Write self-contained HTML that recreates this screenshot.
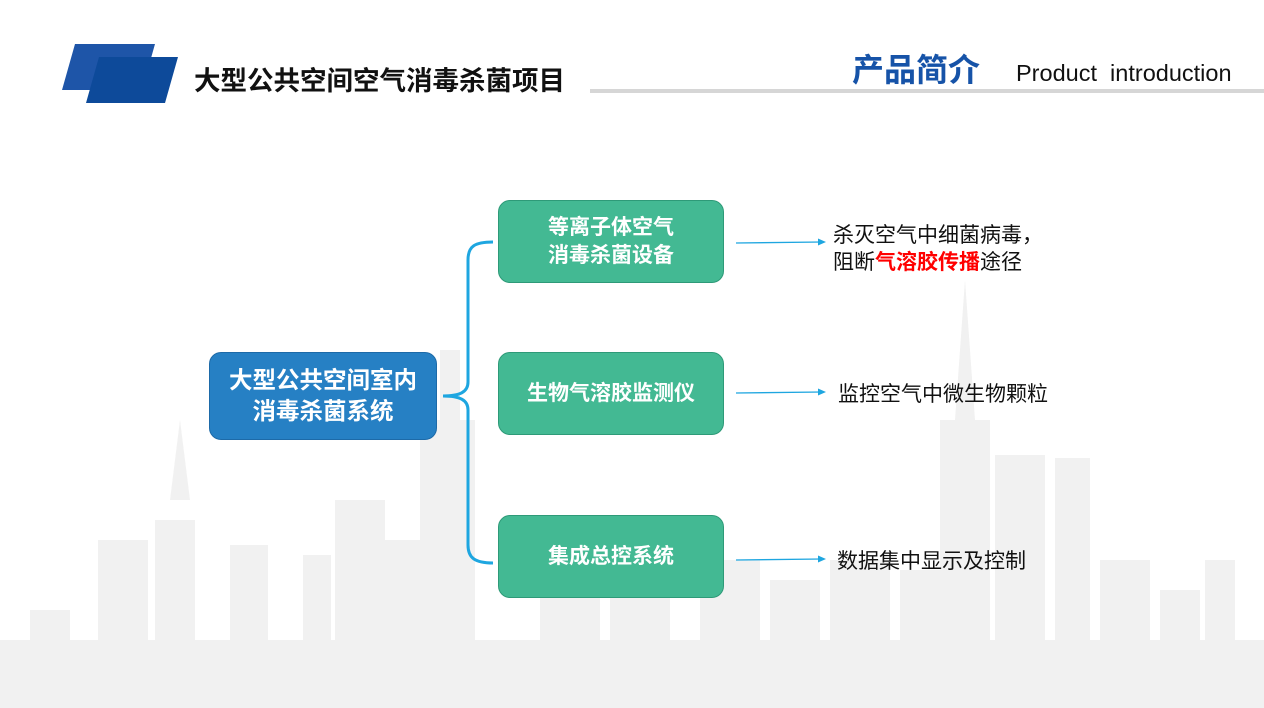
<!DOCTYPE html>
<html><head><meta charset="utf-8"><style>
body{margin:0;width:1264px;height:708px;overflow:hidden;background:#fff;position:relative;font-family:"Liberation Sans","Noto Sans CJK SC",sans-serif}
.a{position:absolute}
.g{position:absolute;background:#43b993;border:1.5px solid #2e9a78;border-radius:12px;color:#fff;font-weight:bold;font-size:21px;display:flex;align-items:center;justify-content:center;text-align:center;line-height:28px;box-sizing:border-box}
.t{position:absolute;font-size:21px;color:#111;line-height:27px;white-space:nowrap}
</style></head><body>
<svg class="a" style="left:0;top:0" width="1264" height="708">
<g fill="#f1f1f1">
<rect x="0" y="640" width="1264" height="68"/>
<rect x="30" y="610" width="40" height="98"/><rect x="98" y="540" width="50" height="168"/><rect x="155" y="520" width="40" height="188"/>
<polygon points="170,500 180,420 190,500"/><rect x="230" y="545" width="38" height="163"/><rect x="303" y="555" width="28" height="153"/>
<rect x="335" y="500" width="50" height="208"/><rect x="385" y="540" width="45" height="168"/><rect x="420" y="420" width="55" height="288"/>
<rect x="440" y="350" width="20" height="70"/><rect x="540" y="550" width="60" height="158"/><rect x="610" y="580" width="60" height="128"/>
<rect x="700" y="560" width="60" height="148"/><rect x="770" y="580" width="50" height="128"/><rect x="830" y="560" width="60" height="148"/>
<rect x="900" y="570" width="40" height="138"/><rect x="940" y="420" width="50" height="288"/><polygon points="955,420 965,280 975,420"/>
<rect x="995" y="455" width="50" height="253"/><rect x="1055" y="458" width="35" height="250"/><rect x="1100" y="560" width="50" height="148"/>
<rect x="1160" y="590" width="40" height="118"/><rect x="1205" y="560" width="30" height="148"/>
</g>
<polygon points="75,44 155,44 142,90 62,90" fill="#1e55a8"/>
<polygon points="99,57 178,57 165,103 86,103" fill="#0d4a9a"/>
<rect x="590" y="89" width="674" height="4" fill="#d6d6d6"/>
<path d="M493,242 C475,242 468,246 468,260 L468,382 C468,392 460,396 443,396 C460,396 468,400 468,410 L468,545 C468,558 475,563 493,563" fill="none" stroke="#1ea6e0" stroke-width="3"/>
<g stroke="#1ea6e0" stroke-width="1.3" fill="#1ea6e0">
<line x1="736" y1="243" x2="822" y2="242"/><polygon points="826,242 818,238.5 818,245.5" stroke="none"/>
<line x1="736" y1="393" x2="822" y2="392"/><polygon points="826,392 818,388.5 818,395.5" stroke="none"/>
<line x1="736" y1="560" x2="822" y2="559"/><polygon points="826,559 818,555.5 818,562.5" stroke="none"/>
</g>
</svg>
<div class="a" style="left:194px;top:59px;font-size:26.5px;font-weight:bold;color:#111;white-space:nowrap">大型公共空间空气消毒杀菌项目</div>
<div class="a" style="left:852px;top:45px;font-size:32px;font-weight:bold;color:#1653a8;white-space:nowrap">产品简介</div>
<div class="a" style="left:1016px;top:60px;font-size:23.5px;color:#111;white-space:nowrap">Product&nbsp; introduction</div>
<div class="g" style="left:209px;top:352px;width:228px;height:88px;background:#2680c4;border-color:#1d6aa8;font-size:23.5px;line-height:31px">大型公共空间室内<br>消毒杀菌系统</div>
<div class="g" style="left:498px;top:200px;width:226px;height:83px">等离子体空气<br>消毒杀菌设备</div>
<div class="g" style="left:498px;top:352px;width:226px;height:83px">生物气溶胶监测仪</div>
<div class="g" style="left:498px;top:515px;width:226px;height:83px">集成总控系统</div>
<div class="t" style="left:833px;top:222px">杀灭空气中细菌病毒<span style="letter-spacing:0">，</span><br>阻断<b style="color:#f00">气溶胶传播</b>途径</div>
<div class="t" style="left:838px;top:381px">监控空气中微生物颗粒</div>
<div class="t" style="left:837px;top:548px">数据集中显示及控制</div>
</body></html>
